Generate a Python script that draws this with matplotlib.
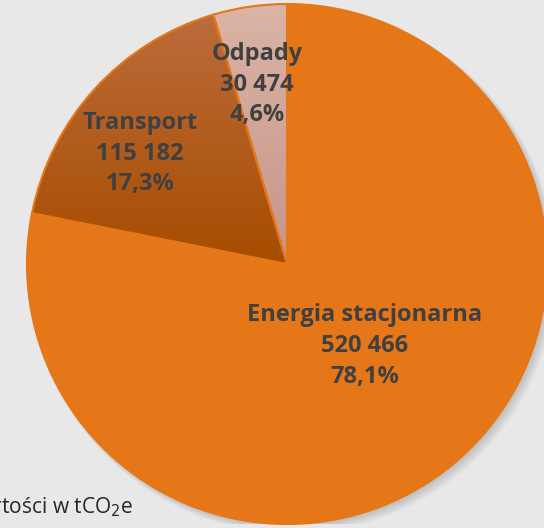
import numpy as np
import matplotlib.pyplot as plt
from matplotlib.patches import Circle

plt.rcParams['font.family'] = ['Open Sans', 'DejaVu Sans']

categories = ["Energia stacjonarna", "Transport", "Odpady"]
values = [520466, 115182, 30474]
# label centres, in units of the pie radius
label_pos = [(0.30, -0.315), (-0.565, 0.425), (-0.115, 0.69)]

bg = "#E8E8E8"
orange = "#E57718"
grad_top = ["#E57718", "#BC6C3C", "#DAB4A6"]
grad_bot = ["#E57718", "#A74D00", "#C79589"]

fig = plt.figure(figsize=(5.44, 5.28), dpi=100, facecolor=bg)
W, H = 544, 528
cx, cy, r = 287, 264, 260
ax = fig.add_axes([(cx - r) / W, (H - cy - r) / H, 2 * r / W, 2 * r / H])
ax.set_facecolor("none")
ax.axis("off")

# soft shadow
for k in range(10):
    off = 0.005 + k * 0.002
    ax.add_patch(Circle((off, -off), 1.0 + k * 0.0015, color="#7a7a7a",
                        alpha=0.04, lw=0, zorder=0))

wedges, _ = ax.pie(values, startangle=90, counterclock=False, radius=1.0,
                   colors=grad_top,
                   wedgeprops=dict(edgecolor=orange, linewidth=1.5))

for w, c0, c1 in zip(wedges, grad_top, grad_bot):
    if c0 == c1:
        continue
    a = np.array([int(c0[i:i + 2], 16) for i in (1, 3, 5)]) / 255
    b = np.array([int(c1[i:i + 2], 16) for i in (1, 3, 5)]) / 255
    t = np.linspace(0, 1, 256)[:, None]
    img = (a * (1 - t) + b * t)[:, None, :]
    th1, th2 = np.deg2rad(w.theta1), np.deg2rad(w.theta2)
    ang = np.linspace(th1, th2, 50)
    ys = np.concatenate([[0], np.sin(ang)])
    im = ax.imshow(img, extent=[-1, 1, ys.min(), ys.max()], origin="upper",
                   aspect="auto", zorder=w.get_zorder() + 0.1)
    im.set_clip_path(w)
    w.set_facecolor("none")
    w.set_zorder(w.get_zorder() + 0.2)
ax.set_xlim(-1, 1)
ax.set_ylim(-1, 1)

total = sum(values)
for name, v, (lx, ly) in zip(categories, values, label_pos):
    pct = f"{100 * v / total:.1f}".replace(".", ",") + "%"
    num = f"{v:,}".replace(",", " ")
    ax.text(lx, ly, f"{name}\n{num}\n{pct}", ha="center", va="center",
            fontsize=17, fontweight="bold", color="#404040",
            linespacing=1.38, zorder=10)

fig.text(133 / W, 1 - 507 / H, "Wartości w tCO$_2$e", ha="right", va="center",
         fontsize=15, color="#262626")

fig.savefig("out.png", dpi=100, facecolor=bg)
